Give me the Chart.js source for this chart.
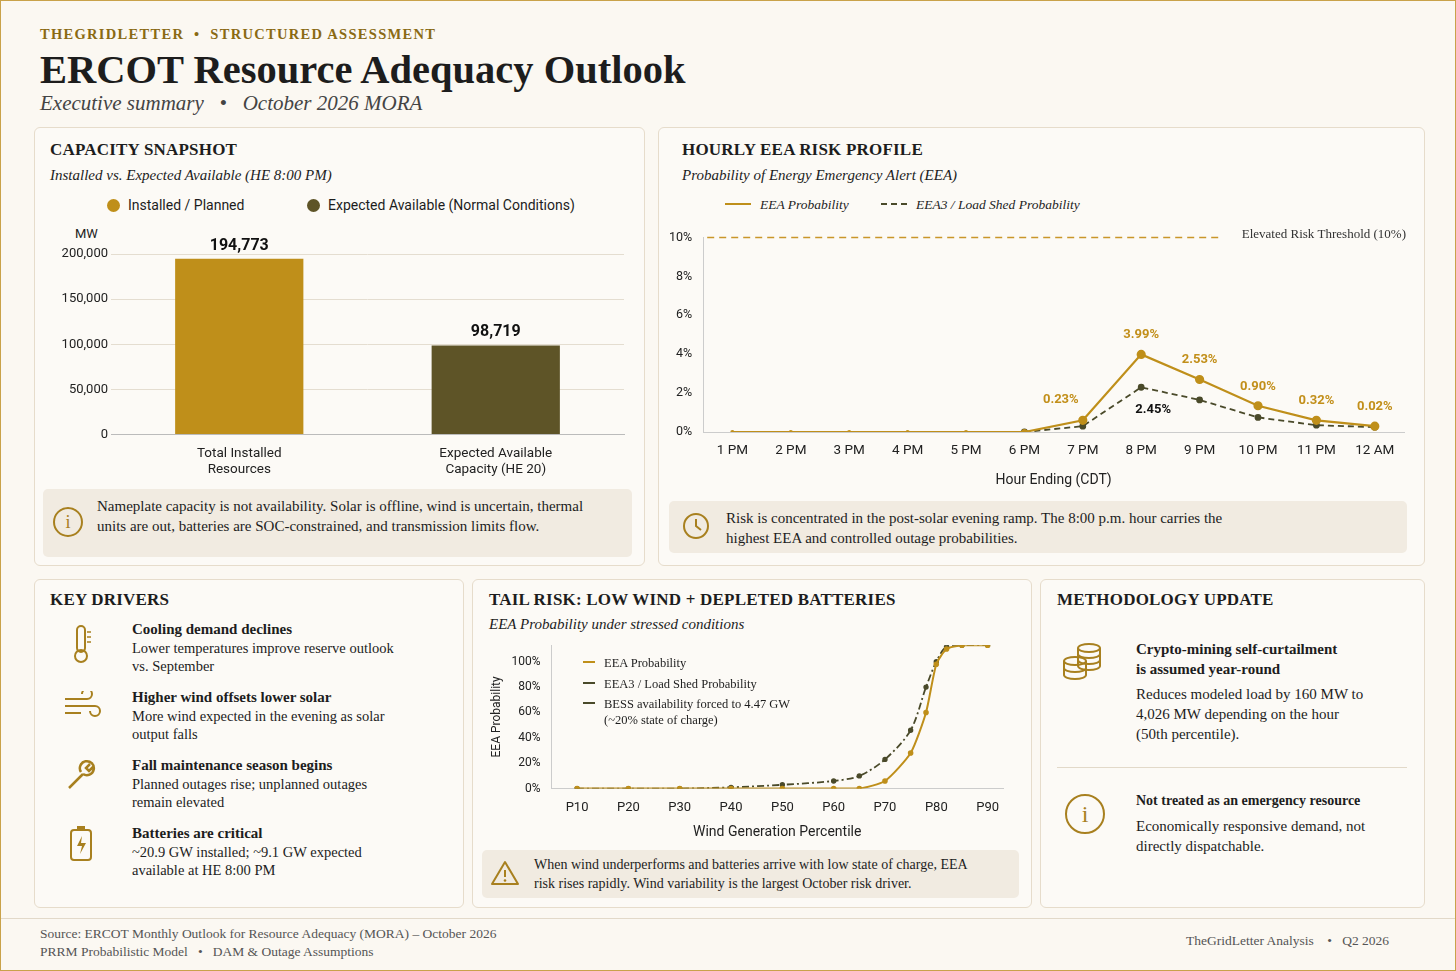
<!DOCTYPE html>
<html><head><meta charset="utf-8">
<script src="https://cdn.jsdelivr.net/npm/chart.js@4"></script>
<style>
body{margin:0;background:#fff;}
#page{position:relative;width:1454px;height:969px;background:#fbf8f2;border:1px solid #c9a24a;font-family:"Liberation Serif",serif;color:#1d1d1d;overflow:hidden}
.a{position:absolute}
.panel{position:absolute;border:1px solid #e6dccb;border-radius:6px;background:#fcfaf6}
.ph{position:absolute;font-weight:bold;font-size:17px;letter-spacing:0.2px}
.sub{position:absolute;font-style:italic;font-size:15px}
.note{position:absolute;background:#f1ebe1;border-radius:5px;font-size:15px;line-height:20px}
.sans{font-family:Roboto,"Liberation Sans",sans-serif}
.dt{font-weight:bold;font-size:15px}
.dd{font-size:14.5px;line-height:18px}
</style></head><body>
<div id="page">
<div class="a" style="left:39px;top:25px;font-size:14.5px;font-weight:bold;letter-spacing:1.3px;color:#8a6a14">THEGRIDLETTER &nbsp;•&nbsp; STRUCTURED ASSESSMENT</div>
<div class="a" style="left:39px;top:45px;font-size:40.5px;font-weight:bold">ERCOT Resource Adequacy Outlook</div>
<div class="a" style="left:39px;top:90px;font-size:21px;font-style:italic;color:#444">Executive summary &nbsp;&nbsp;•&nbsp;&nbsp; October 2026 MORA</div>

<div class="panel" style="left:33px;top:126px;width:609px;height:437px"></div>
<div class="ph" style="left:49px;top:139px">CAPACITY SNAPSHOT</div>
<div class="sub" style="left:49px;top:166px">Installed vs. Expected Available (HE 8:00 PM)</div>
<div class="a sans" style="left:106px;top:196px;font-size:14px"><span style="display:inline-block;width:13px;height:13px;border-radius:50%;background:#bf8f1a;vertical-align:-2px;margin-right:8px"></span>Installed / Planned</div>
<div class="a sans" style="left:306px;top:196px;font-size:14px"><span style="display:inline-block;width:13px;height:13px;border-radius:50%;background:#5e5427;vertical-align:-2px;margin-right:8px"></span>Expected Available (Normal Conditions)</div>
<div class="a sans" style="left:74px;top:225px;font-size:13px">MW</div>
<canvas id="c1" class="a" style="left:38px;top:228px;width:595px;height:252px" width="595" height="252"></canvas>
<div class="note" style="left:42px;top:488px;width:589px;height:68px"></div>
<div class="a" style="left:52px;top:506px;width:26px;height:26px;border:2px solid #a8801f;border-radius:50%;color:#a8801f;text-align:center;font-size:18px;line-height:26px;font-family:'Liberation Serif'">i</div>
<div class="a" style="left:96px;top:495px;width:495px;font-size:15px;line-height:20px">Nameplate capacity is not availability. Solar is offline, wind is uncertain, thermal units are out, batteries are SOC-constrained, and transmission limits flow.</div>

<div class="panel" style="left:657px;top:126px;width:765px;height:437px"></div>
<div class="ph" style="left:681px;top:139px">HOURLY EEA RISK PROFILE</div>
<div class="sub" style="left:681px;top:166px">Probability of Energy Emergency Alert (EEA)</div>
<div class="a" style="left:724px;top:196px;font-size:13.5px;font-style:italic"><span style="display:inline-block;width:26px;border-top:2px solid #bf8f1a;vertical-align:4px;margin-right:9px"></span>EEA Probability</div>
<div class="a" style="left:880px;top:196px;font-size:13.5px;font-style:italic"><span style="display:inline-block;width:26px;border-top:2px dashed #4a4a2a;vertical-align:4px;margin-right:9px"></span>EEA3 / Load Shed Probability</div>
<canvas id="c2" class="a" style="left:665px;top:226px;width:752px;height:266px" width="752" height="266"></canvas>
<div class="note" style="left:668px;top:500px;width:738px;height:52px"></div>
<svg class="a" style="left:680px;top:510px" width="30" height="30"><circle cx="15" cy="15" r="12" fill="none" stroke="#a8801f" stroke-width="2"/><path d="M15 8 V15 L20 19" fill="none" stroke="#a8801f" stroke-width="2"/></svg>
<div class="a" style="left:725px;top:507px;width:500px;font-size:15px;line-height:20px">Risk is concentrated in the post-solar evening ramp. The 8:00 p.m. hour carries the highest EEA and controlled outage probabilities.</div>

<div class="panel" style="left:33px;top:578px;width:428px;height:327px"></div>
<div class="ph" style="left:49px;top:589px">KEY DRIVERS</div>
<svg class="a" style="left:66px;top:623px" width="30" height="40"><rect x="10" y="2" width="8" height="26" rx="4" fill="none" stroke="#a8801f" stroke-width="2"/><circle cx="14" cy="32" r="6" fill="none" stroke="#a8801f" stroke-width="2"/><path d="M20 8h4M20 13h4M20 18h4" stroke="#a8801f" stroke-width="1.5"/></svg>
<div class="a dt" style="left:131px;top:620px">Cooling demand declines</div>
<div class="a dd" style="left:131px;top:638px;width:278px">Lower temperatures improve reserve outlook vs. September</div>
<svg class="a" style="left:62px;top:690px" width="38" height="30"><path d="M2 8h22a5 5 0 1 0-5-5M2 15h30a5 5 0 1 1-5 5M2 22h16" fill="none" stroke="#a8801f" stroke-width="2"/></svg>
<div class="a dt" style="left:131px;top:688px">Higher wind offsets lower solar</div>
<div class="a dd" style="left:131px;top:706px;width:278px">More wind expected in the evening as solar output falls</div>
<svg class="a" style="left:64px;top:757px" width="34" height="34"><path d="M4 30 L18 16 M18 16 a7 7 0 1 0 -2-2 M25 6 l-4 4 3 3 4-4" fill="none" stroke="#a8801f" stroke-width="2.5"/></svg>
<div class="a dt" style="left:131px;top:756px">Fall maintenance season begins</div>
<div class="a dd" style="left:131px;top:774px;width:262px">Planned outages rise; unplanned outages remain elevated</div>
<svg class="a" style="left:68px;top:823px" width="26" height="38"><rect x="2" y="6" width="20" height="30" rx="3" fill="none" stroke="#a8801f" stroke-width="2"/><rect x="8" y="2" width="8" height="4" fill="#a8801f"/><path d="M13 12 L8 22 H13 L11 30 L17 19 H12 Z" fill="#a8801f"/></svg>
<div class="a dt" style="left:131px;top:824px">Batteries are critical</div>
<div class="a dd" style="left:131px;top:842px;width:262px">~20.9 GW installed; ~9.1 GW expected available at HE 8:00 PM</div>

<div class="panel" style="left:471px;top:578px;width:558px;height:327px"></div>
<div class="ph" style="left:488px;top:589px">TAIL RISK: LOW WIND + DEPLETED BATTERIES</div>
<div class="sub" style="left:488px;top:615px">EEA Probability under stressed conditions</div>
<canvas id="c3" class="a" style="left:485px;top:634px;width:525px;height:210px" width="525" height="210"></canvas>
<div class="a" style="left:582px;top:652px;font-size:12.5px;line-height:20.5px">
<div><span style="display:inline-block;width:12px;border-top:2px solid #bf8f1a;vertical-align:4px;margin-right:9px"></span>EEA Probability</div>
<div><span style="display:inline-block;width:12px;border-top:2px dashed #4a4a2a;vertical-align:4px;margin-right:9px"></span>EEA3 / Load Shed Probability</div>
<div style="line-height:16px;margin-top:2px"><span style="display:inline-block;width:12px;border-top:2px dashed #4a4a2a;vertical-align:4px;margin-right:9px"></span>BESS availability forced to 4.47 GW<br><span style="margin-left:21px">(~20% state of charge)</span></div>
</div>
<div class="note" style="left:481px;top:849px;width:537px;height:48px"></div>
<svg class="a" style="left:489px;top:858px" width="30" height="28"><path d="M15 3 L28 25 H2 Z" fill="none" stroke="#a8801f" stroke-width="2" stroke-linejoin="round"/><path d="M15 11 V18" stroke="#a8801f" stroke-width="2"/><circle cx="15" cy="21.5" r="1.3" fill="#a8801f"/></svg>
<div class="a" style="left:533px;top:854px;width:450px;font-size:14px;line-height:19px">When wind underperforms and batteries arrive with low state of charge, EEA risk rises rapidly. Wind variability is the largest October risk driver.</div>

<div class="panel" style="left:1039px;top:578px;width:383px;height:327px"></div>
<div class="ph" style="left:1056px;top:589px">METHODOLOGY UPDATE</div>
<svg class="a" style="left:1060px;top:640px" width="44" height="40"><g fill="none" stroke="#a8801f" stroke-width="2"><ellipse cx="28" cy="7" rx="11" ry="4"/><path d="M17 7v18M39 7v18M17 13a11 4 0 0 0 22 0M17 19a11 4 0 0 0 22 0M17 25a11 4 0 0 0 22 0"/><ellipse cx="14" cy="20" rx="11" ry="4"/><path d="M3 20v14M25 20v14M3 27a11 4 0 0 0 22 0M3 34a11 4 0 0 0 22 0"/></g></svg>
<div class="a dt" style="left:1135px;top:638px;line-height:20px">Crypto-mining self-curtailment<br>is assumed year-round</div>
<div class="a" style="left:1135px;top:683px;width:232px;font-size:15px;line-height:20px">Reduces modeled load by 160 MW to 4,026 MW depending on the hour (50th percentile).</div>
<div class="a" style="left:1056px;top:766px;width:350px;border-top:1px solid #e2d9c9"></div>
<div class="a" style="left:1064px;top:793px;width:36px;height:36px;border:2px solid #a8801f;border-radius:50%;color:#a8801f;text-align:center;font-size:24px;line-height:36px">i</div>
<div class="a dt" style="left:1135px;top:792px;font-size:14px">Not treated as an emergency resource</div>
<div class="a" style="left:1135px;top:815px;width:232px;font-size:15px;line-height:20px">Economically responsive demand, not directly dispatchable.</div>

<div class="a" style="left:0;top:917px;width:1454px;border-top:1px solid #e2d9c9"></div>
<div class="a" style="left:39px;top:924px;font-size:13.5px;line-height:18px;color:#555">Source: ERCOT Monthly Outlook for Resource Adequacy (MORA) – October 2026<br>PRRM Probabilistic Model &nbsp;&nbsp;•&nbsp;&nbsp; DAM &amp; Outage Assumptions</div>
<div class="a" style="left:1185px;top:932px;font-size:13.5px;color:#555">TheGridLetter Analysis &nbsp;&nbsp; • &nbsp;&nbsp;Q2 2026</div>
</div>
<script>
const barCategories=[["Total Installed","Resources"],["Expected Available","Capacity (HE 20)"]];
const barValues=[194773,98719];
const barColors=["#bf8f1a","#5e5427"];
const hours=["1 PM","2 PM","3 PM","4 PM","5 PM","6 PM","7 PM","8 PM","9 PM","10 PM","11 PM","12 AM"];
const eeaHourly=[0,0,0,0,0,0,0.6,3.99,2.7,1.35,0.6,0.3];
const eea3Hourly=[null,null,null,null,null,0,0.3,2.3,1.65,0.75,0.35,0.25];
const eeaLabels=[null,null,null,null,null,null,"0.23%","3.99%","2.53%","0.90%","0.32%","0.02%"];
const eea3Labels=[null,null,null,null,null,null,null,"2.45%",null,null,null,null];
const thresholdValue=10;
const tailTicks=[10,20,30,40,50,60,70,80,90];
const tailPct=[10,20,30,40,50,60,65,70,75,78,80,82,85,90];
const tailEEA=[0,0,0,0,0,0,0,6,28,60,98,110,113,113];
const tailEEA3=[0,0,0,1,3,6,10,23,46,80,100,112,113,113];
const sans="Roboto, 'Liberation Sans', sans-serif";
Chart.defaults.font.family=sans;Chart.defaults.color="#222";Chart.defaults.animation=false;
const gridCol="#e4ddd0";

new Chart(c1,{type:'bar',data:{labels:barCategories,datasets:[{data:barValues,backgroundColor:barColors,barPercentage:0.5,categoryPercentage:1}]},
options:{responsive:false,layout:{padding:{top:25,right:10}},plugins:{legend:{display:false},tooltip:{enabled:false}},
scales:{y:{min:0,max:200000,ticks:{stepSize:50000,font:{size:13},callback:v=>v.toLocaleString('en-US')},grid:{color:gridCol,drawTicks:false},border:{display:false},afterFit:a=>{a.width=72}},
x:{grid:{display:false},border:{color:"#bbb"},ticks:{font:{size:13.5},color:"#222"}}}},
plugins:[{id:'lbl',afterDatasetsDraw(ch){const ctx=ch.ctx;ch.getDatasetMeta(0).data.forEach((b,i)=>{ctx.save();ctx.font="bold 16px "+sans;ctx.fillStyle="#111";ctx.textAlign="center";ctx.fillText(barValues[i].toLocaleString('en-US'),b.x,b.y-9);ctx.restore();});}}]});

new Chart(c2,{type:'line',data:{labels:hours,datasets:[
{data:eeaHourly,borderColor:"#bf8f1a",backgroundColor:"#bf8f1a",borderWidth:2.2,pointRadius:[1,1,1,1,1,2,3.5,3.5,3.5,3.5,3.5,3.5],tension:0},
{data:eea3Hourly,borderColor:"#4a4a2a",backgroundColor:"#4a4a2a",borderWidth:1.8,borderDash:[6,4],pointRadius:2.5,tension:0}]},
options:{responsive:false,layout:{padding:{right:14,top:8}},plugins:{legend:{display:false},tooltip:{enabled:false}},
scales:{y:{min:0,max:10,ticks:{stepSize:2,font:{size:12.5},callback:v=>v+'%'},grid:{display:false},border:{color:"#ccc"}},
x:{offset:true,grid:{display:false},border:{color:"#ccc"},ticks:{font:{size:13.5}},title:{display:true,text:"Hour Ending (CDT)",font:{size:14},padding:{top:10}}}}},
plugins:[{id:'thr',afterDatasetsDraw(ch){const ctx=ch.ctx,x=ch.scales.x,y=ch.scales.y;const yy=y.getPixelForValue(thresholdValue);
ctx.save();ctx.strokeStyle="#c9962a";ctx.lineWidth=1.6;ctx.setLineDash([7,5]);ctx.beginPath();ctx.moveTo(ch.chartArea.left+4,yy);ctx.lineTo(ch.chartArea.left+520,yy);ctx.stroke();
ctx.font="13px 'Liberation Serif', serif";ctx.fillStyle="#333";ctx.textAlign="right";ctx.fillText("Elevated Risk Threshold (10%)",ch.chartArea.right+2,yy);
ctx.font="bold 13px "+sans;ctx.textAlign="center";
ch.getDatasetMeta(0).data.forEach((p,i)=>{if(eeaLabels[i]){ctx.fillStyle="#c28f1a";ctx.fillText(eeaLabels[i],p.x+(i==6?-22:0),p.y-(i==6?17:16));}});
ch.getDatasetMeta(1).data.forEach((p,i)=>{if(eea3Labels[i]){ctx.fillStyle="#111";ctx.fillText(eea3Labels[i],p.x+12,p.y+26);}});
ctx.restore();}}]});

new Chart(c3,{type:'line',data:{datasets:[
{data:tailPct.map((p,i)=>({x:p,y:tailEEA[i]})),borderColor:"#bf8f1a",backgroundColor:"#bf8f1a",borderWidth:2,pointRadius:1.8,tension:0.2},
{data:tailPct.map((p,i)=>({x:p,y:tailEEA3[i]})),borderColor:"#4a4a2a",backgroundColor:"#4a4a2a",borderWidth:1.8,borderDash:[7,3,2,3],pointRadius:1.8,tension:0.3}]},
options:{responsive:false,layout:{padding:{right:8}},plugins:{legend:{display:false},tooltip:{enabled:false}},
scales:{y:{min:0,max:113,ticks:{stepSize:20,font:{size:12},callback:v=>v<=100?v+'%':''},grid:{display:false},border:{color:"#ccc"},title:{display:true,text:"EEA Probability",font:{size:12}}},
x:{type:'linear',min:5,max:93,afterBuildTicks:a=>{a.ticks=tailTicks.map(v=>({value:v}))},ticks:{font:{size:13},callback:v=>'P'+v},grid:{display:false},border:{color:"#ccc"},title:{display:true,text:"Wind Generation Percentile",font:{size:14},padding:{top:6}}}}}});
</script>
</body></html>
